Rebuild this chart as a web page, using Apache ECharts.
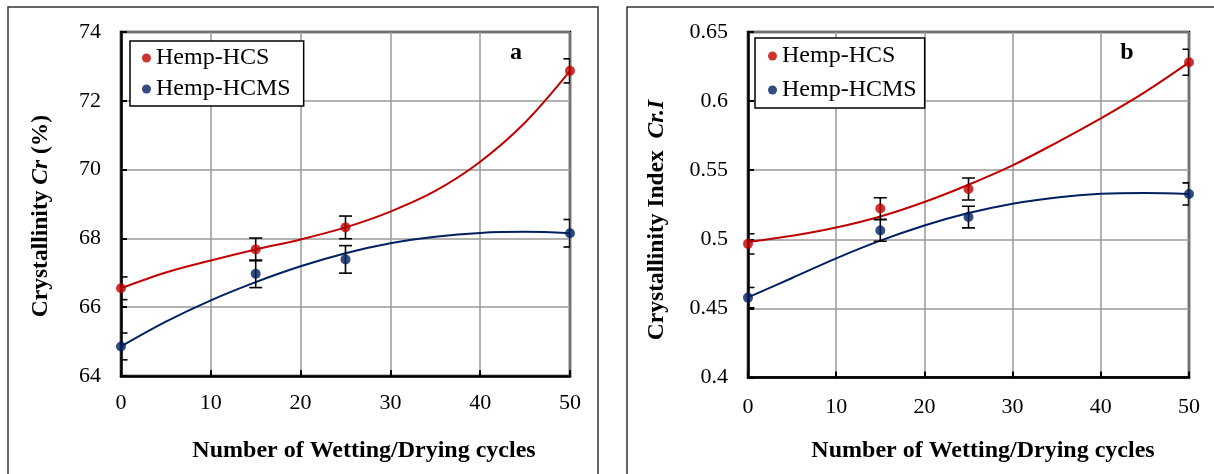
<!DOCTYPE html>
<html>
<head>
<meta charset="utf-8">
<script src="https://cdn.jsdelivr.net/npm/echarts@6/dist/echarts.min.js"></script>
<style>
html,body{margin:0;padding:0;background:#fff;}
#c{width:1214px;height:474px;}
</style>
</head>
<body>
<div id="c"></div>
<script>
// ---- data ----
const cycles = [0, 15, 25, 50];
const xTicks = [0, 10, 20, 30, 40, 50];

// Panel a: Crystallinity Cr (%)
const crHCS = [66.55, 67.68, 68.32, 72.87];
const crHCSErr = [0.33, 0.33, 0.33, 0.35];
const crHCMS = [64.86, 66.97, 67.39, 68.15];
const crHCMSErr = [0.39, 0.40, 0.40, 0.40];
const yTicksA = [64, 66, 68, 70, 72, 74];

// Panel b: Crystallinity Index Cr.I
const ciHCS = [0.4967, 0.5223, 0.5364, 0.6281];
const ciHCSErr = [0.0073, 0.0078, 0.0080, 0.0094];
const ciHCMS = [0.4578, 0.5064, 0.5161, 0.5328];
const ciHCMSErr = [0.0073, 0.0078, 0.0078, 0.0080];
const yTicksB = ['0.4', '0.45', '0.5', '0.55', '0.6', '0.65'];

// Trend curves
const trendX = [0, 5, 10, 15, 20, 25, 30, 35, 40, 45, 50];
const crHCSTrend = [66.55, 67.01, 67.36, 67.68, 67.97, 68.32, 68.78, 69.38, 70.23, 71.37, 72.87];
const crHCMSTrend = [64.86, 65.58, 66.20, 66.73, 67.19, 67.57, 67.86, 68.05, 68.16, 68.19, 68.15];
const ciHCSTrend = [0.4980, 0.5025, 0.5085, 0.5165, 0.5270, 0.5395, 0.5535, 0.5700, 0.5875, 0.6065, 0.6280];
const ciHCMSTrend = [0.4580, 0.4720, 0.4862, 0.4990, 0.5100, 0.5190, 0.5258, 0.5303, 0.5329, 0.5335, 0.5328];

const seriesNames = ['Hemp-HCS', 'Hemp-HCMS'];
// ------------------------------------

const RED = '#C00000', BLUE = '#002060';
const FONT = "'Liberation Serif', 'Times New Roman', serif";

const zip = (xs, ys) => xs.map((x, i) => [x, ys[i]]);
const zip3 = (xs, ys, es) => xs.map((x, i) => [x, ys[i], es[i]]);

function errRender(params, api) {
  const x = api.value(0), y = api.value(1), e = api.value(2);
  const t = api.coord([x, y + e]);
  const b = api.coord([x, y - e]);
  const cs = params.coordSys;
  const hw = 6.5;
  const lo = Math.max(t[0] - hw, cs.x), hi = Math.min(t[0] + hw, cs.x + cs.width);
  const st = { stroke: '#000', lineWidth: 1.6 };
  return {
    type: 'group',
    children: [
      { type: 'line', shape: { x1: t[0], y1: t[1], x2: b[0], y2: b[1] }, style: st },
      { type: 'line', shape: { x1: lo, y1: t[1], x2: hi, y2: t[1] }, style: st },
      { type: 'line', shape: { x1: lo, y1: b[1], x2: hi, y2: b[1] }, style: st }
    ]
  };
}

function xAxis(gi, margin) {
  return {
    type: 'value', gridIndex: gi, min: xTicks[0], max: xTicks[xTicks.length - 1], interval: 10,
    axisLine: { show: true, onZero: false, lineStyle: { color: '#000', width: 2.5 } },
    axisTick: { show: true, inside: true, length: 6, lineStyle: { color: '#000', width: 2 } },
    axisLabel: { fontFamily: FONT, fontSize: 22, color: '#000', margin: margin },
    splitLine: { show: true, lineStyle: { color: '#999', width: 1.5 } }
  };
}
function yAxis(gi, min, max, interval, fmt) {
  return {
    type: 'value', gridIndex: gi, min: min, max: max, interval: interval,
    axisLine: { show: true, onZero: false, lineStyle: { color: '#000', width: 2.5 } },
    axisTick: { show: true, inside: true, length: 6, lineStyle: { color: '#000', width: 2 } },
    axisLabel: { fontFamily: FONT, fontSize: 22, color: '#000', margin: 20, formatter: fmt },
    splitLine: { show: true, lineStyle: { color: '#999', width: 1.5 } }
  };
}

function panelSeries(gi, hcs, hcsErr, hcms, hcmsErr, hcsTrend, hcmsTrend) {
  return [
    { type: 'line', name: 'trendHCS' + gi, xAxisIndex: gi, yAxisIndex: gi, data: zip(trendX, hcsTrend),
      smooth: 0.35, showSymbol: false, symbol: 'none', lineStyle: { color: RED, width: 2 }, silent: true, z: 2 },
    { type: 'line', name: 'trendHCMS' + gi, xAxisIndex: gi, yAxisIndex: gi, data: zip(trendX, hcmsTrend),
      smooth: 0.35, showSymbol: false, symbol: 'none', lineStyle: { color: BLUE, width: 2 }, silent: true, z: 2 },
    { type: 'custom', name: 'errHCS' + gi, xAxisIndex: gi, yAxisIndex: gi, data: zip3(cycles, hcs, hcsErr),
      renderItem: errRender, clip: true, silent: true, z: 3 },
    { type: 'custom', name: 'errHCMS' + gi, xAxisIndex: gi, yAxisIndex: gi, data: zip3(cycles, hcms, hcmsErr),
      renderItem: errRender, clip: true, silent: true, z: 3 },
    { type: 'scatter', name: seriesNames[0], xAxisIndex: gi, yAxisIndex: gi, data: zip(cycles, hcs),
      symbol: 'circle', symbolSize: 10, itemStyle: { color: RED }, clip: false, z: 4 },
    { type: 'scatter', name: seriesNames[1], xAxisIndex: gi, yAxisIndex: gi, data: zip(cycles, hcms),
      symbol: 'circle', symbolSize: 10, itemStyle: { color: BLUE }, clip: false, z: 4 }
  ];
}

function legend(left, top, gap, pad) {
  return {
    orient: 'vertical', left: left, top: top,
    data: seriesNames.map(n => ({ name: n, icon: 'circle' })),
    itemWidth: 9, itemHeight: 9, itemGap: gap,
    padding: pad, borderColor: '#000', borderWidth: 1.5, backgroundColor: '#fff',
    textStyle: { fontFamily: FONT, fontSize: 24, color: '#000' },
    selectedMode: false
  };
}

function richTitle(x, y, text) {
  return {
    type: 'text', x: x, y: y, rotation: Math.PI / 2, z: 10,
    style: {
      text: text, textAlign: 'center', textVerticalAlign: 'middle',
      rich: {
        b: { fontFamily: FONT, fontSize: 23.5, fontWeight: 'bold', fill: '#000' },
        bi: { fontFamily: FONT, fontSize: 23.5, fontWeight: 'bold', fontStyle: 'italic', fill: '#000' }
      }
    }
  };
}
function plainText(x, y, text, size) {
  return {
    type: 'text', x: x, y: y, z: 10,
    style: { text: text, textAlign: 'center', textVerticalAlign: 'middle',
      font: 'bold ' + size + 'px ' + FONT, fill: '#000' }
  };
}

const chart = echarts.init(document.getElementById('c'), null, { renderer: 'canvas' });
chart.setOption({
  animation: false,
  backgroundColor: '#fff',
  grid: [
    { left: 121, top: 32, width: 449, height: 344, show: true, borderColor: '#000', borderWidth: 2.5, backgroundColor: 'transparent' },
    { left: 748, top: 32, width: 441, height: 345.5, show: true, borderColor: '#000', borderWidth: 2.5, backgroundColor: 'transparent' }
  ],
  xAxis: [xAxis(0, 16), xAxis(1, 19)],
  yAxis: [
    yAxis(0, yTicksA[0], yTicksA[yTicksA.length - 1], 2, v => String(v)),
    yAxis(1, +yTicksB[0], +yTicksB[yTicksB.length - 1], 0.05, v => {
      const s = String(+v.toFixed(2));
      return yTicksB.indexOf(s) >= 0 ? s : '';
    })
  ],
  legend: [legend(130, 41, 7, [5, 13, 5, 12]), legend(755, 38, 10, [6, 8, 6, 13])],
  series: [].concat(
    panelSeries(0, crHCS, crHCSErr, crHCMS, crHCMSErr, crHCSTrend, crHCMSTrend),
    panelSeries(1, ciHCS, ciHCSErr, ciHCMS, ciHCMSErr, ciHCSTrend, ciHCMSTrend)
  ),
  graphic: [
    { type: 'rect', shape: { x: 8, y: 7, width: 590, height: 500 }, style: { fill: 'none', stroke: '#333', lineWidth: 1.5 }, z: 0 },
    { type: 'rect', shape: { x: 627, y: 7, width: 620, height: 500 }, style: { fill: 'none', stroke: '#333', lineWidth: 1.5 }, z: 0 },
    richTitle(41, 216, '{b|Crystallinity }{bi|Cr}{b| (%)}'),
    richTitle(657, 220, '{b|Crystallinity Index  }{bi|Cr.I}'),
    plainText(364, 451, 'Number of Wetting/Drying cycles', 24),
    plainText(983, 451, 'Number of Wetting/Drying cycles', 24),
    plainText(516, 53, 'a', 24),
    plainText(1127, 53, 'b', 24)
  ]
});
</script>
</body>
</html>
